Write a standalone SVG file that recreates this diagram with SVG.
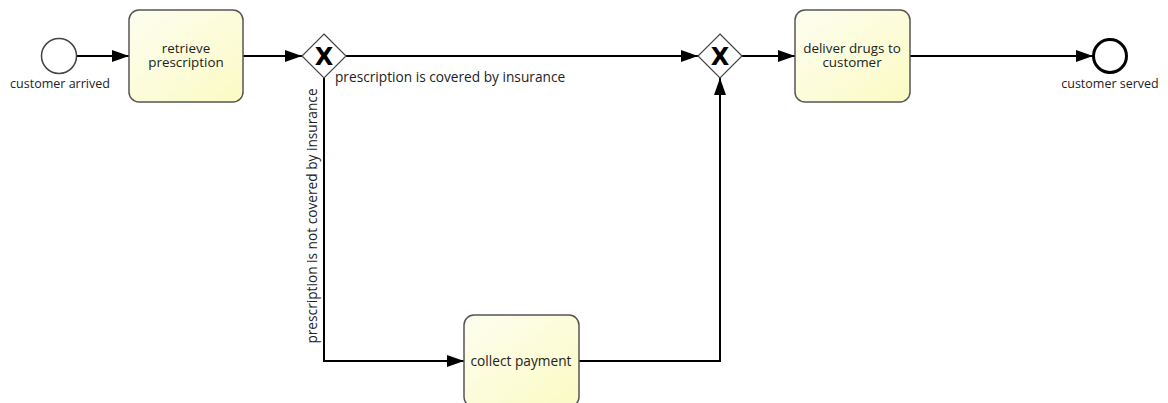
<svg xmlns="http://www.w3.org/2000/svg" width="1168" height="403" viewBox="0 0 1168 403">
  <style>
    .task { fill: url(#taskFill); stroke: #555; stroke-width: 1.5; }
    .gw { fill: #fff; stroke: #444; stroke-width: 1.2; }
    .flow { fill: none; stroke: #000; stroke-width: 2; marker-end: url(#arrow); }
    text { font-family: "Open Sans", "Noto Sans", "DejaVu Sans", sans-serif; font-size: 13.7px; fill: #222; }
    .ev { font-size: 12.5px; }
    .two { font-size: 13.4px; }
    .mid { text-anchor: middle; }
    .x { font-family: "DejaVu Sans", sans-serif; font-weight: bold; font-size: 24px; fill: #000; text-anchor: middle; }
  </style>
  <defs>
    <linearGradient id="taskFill" x1="0" y1="0" x2="1" y2="1">
      <stop offset="0" stop-color="#fdfdf0"/>
      <stop offset="1" stop-color="#fbfbc4"/>
    </linearGradient>
    <marker id="arrow" viewBox="0 0 17 12" refX="17" refY="6" markerWidth="17" markerHeight="12" markerUnits="userSpaceOnUse" orient="auto">
      <path d="M0,0 L17,6 L0,12 z" fill="#000"/>
    </marker>
  </defs>

  <g id="connectors">
    <path class="flow" d="M77,56 H129"/>
    <path class="flow" d="M243,56 H302"/>
    <path class="flow" d="M346,56 H698"/>
    <path class="flow" d="M324,78 V361 H464"/>
    <path class="flow" d="M579,361 H720 V78"/>
    <path class="flow" d="M742,56 H795"/>
    <path class="flow" d="M910,56 H1093"/>
    <text x="335" y="82">prescription is covered by insurance</text>
    <text class="mid" transform="translate(317,216) rotate(-90)">prescription is not covered by insurance</text>
  </g>

  <g id="customer-arrived">
    <circle cx="59" cy="56" r="17.5" fill="#fff" stroke="#444" stroke-width="1.5"/>
    <text class="mid ev" x="60" y="88">customer arrived</text>
  </g>

  <g id="retrieve-prescription">
    <rect class="task" x="129" y="10" width="114" height="92" rx="10"/>
    <text class="mid two" x="186" y="53">retrieve</text>
    <text class="mid two" x="186" y="67">prescription</text>
  </g>

  <g id="gateway-split">
    <path class="gw" d="M324,34 L346,56 L324,78 L302,56 z"/>
    <text class="x" x="324" y="65">X</text>
  </g>

  <g id="gateway-join">
    <path class="gw" d="M720,34 L742,56 L720,78 L698,56 z"/>
    <text class="x" x="720" y="65">X</text>
  </g>

  <g id="collect-payment">
    <rect class="task" x="464" y="315" width="115" height="92" rx="10"/>
    <text class="mid" x="521" y="366">collect payment</text>
  </g>

  <g id="deliver-drugs">
    <rect class="task" x="795" y="10" width="115" height="92" rx="10"/>
    <text class="mid two" x="852" y="53">deliver drugs to</text>
    <text class="mid two" x="852" y="67">customer</text>
  </g>

  <g id="customer-served">
    <circle cx="1110" cy="56" r="16.5" fill="#fff" stroke="#000" stroke-width="3"/>
    <text class="mid ev" x="1110" y="88">customer served</text>
  </g>
</svg>
